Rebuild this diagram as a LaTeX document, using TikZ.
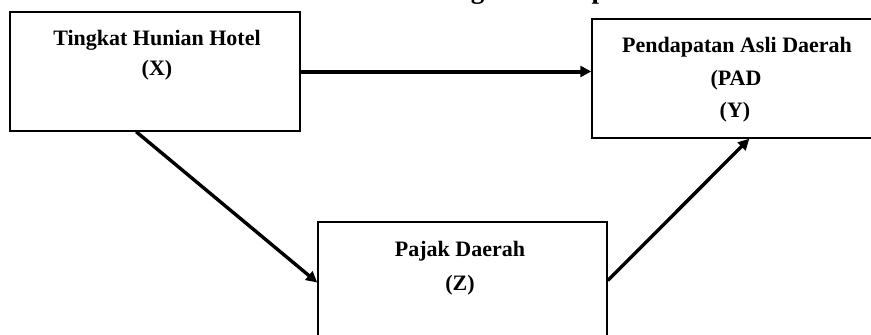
\documentclass[tikz,border=0pt]{standalone}
\usepackage{fontspec}
\setmainfont{Liberation Serif}
\usetikzlibrary{arrows.meta}
\begin{document}
\begin{tikzpicture}[x=0.5pt,y=-0.5pt,
  box/.style={draw,line width=0.75pt,inner sep=0pt,minimum width=#1},
  lbl/.style={anchor=base,inner sep=0pt,font=\fontsize{11}{13}\selectfont\bfseries},
  ttl/.style={anchor=base west,inner sep=0pt,font=\fontsize{13.5}{16}\selectfont\bfseries},
  arr/.style={line width=#1,-{Triangle[length=5.5pt,width=5.5pt]}}]
\clip (0,0) rectangle (871,334);
\fill[white] (0,0) rectangle (871,334);
% clipped title
\node[ttl] (title) at (397,-2) {Kerangka Konseptual};
% boxes
\node[box=145pt,minimum height=59.5pt] (X) at (155,71.5) {};
\node[box=144pt,minimum height=59.5pt] (Y) at (736,78.5) {};
\node[box=144.5pt,minimum height=64pt] (Z) at (462.5,286) {};
% texts
\node[lbl] (xt1) at (157,45) {Tingkat Hunian Hotel};
\node[lbl] (xt2) at (157,75) {(X)};
\node[lbl] (yt1) at (737,52) {Pendapatan Asli Daerah};
\node[lbl] (yt2) at (736,85) {(PAD};
\node[lbl] (yt3) at (735,117) {(Y)};
\node[lbl] (zt1) at (460,256) {Pajak Daerah};
\node[lbl] (zt2) at (460,290) {(Z)};
% connectors
\draw[arr=2pt] (X.east) -- (X.east -| Y.west);
\draw[arr=1.7pt] ([xshift=63.5pt]X.south west) -- ([yshift=1.75pt]Z.west);
\draw[arr=1.7pt] ([yshift=2.75pt]Z.east) -- ([xshift=79pt]Y.south west);
\end{tikzpicture}
\end{document}
